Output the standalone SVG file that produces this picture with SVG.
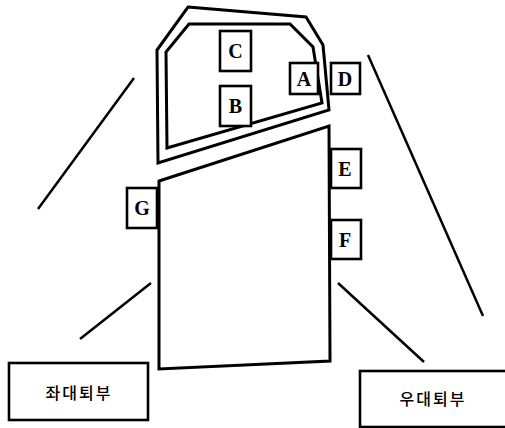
<svg xmlns="http://www.w3.org/2000/svg" width="505" height="428" viewBox="0 0 505 428">
<style>
.s{fill:none;stroke:#000;stroke-width:3;stroke-linejoin:miter}
.b{fill:#fff;stroke:#000;stroke-width:2.6}
.l{fill:none;stroke:#000;stroke-width:2.5}
.t{font-family:"Liberation Serif",serif;font-weight:bold;font-size:20px;text-anchor:middle}
.k{font-family:"Noto Sans CJK KR","Noto Sans",sans-serif;font-size:16px;font-weight:500;letter-spacing:2px;text-anchor:middle}
</style>
<rect width="505" height="428" fill="#fff"/>
<g id="outline">
<polygon class="s" points="188,7 306,17 323,45 329,110 158,163 157,50"/>
<polygon class="s" points="189,24 290,24 313,47 322,103 167,148 166,52"/>
<polygon class="s" points="159,181 329,126 330,361 159,369"/>
</g>
<g id="connectors">
<line class="l" x1="134" y1="78" x2="38" y2="209"/>
<line class="l" x1="151" y1="283" x2="80" y2="339"/>
<line class="l" x1="338" y1="283" x2="424" y2="362"/>
<line class="l" x1="368" y1="55" x2="483" y2="316"/>
</g>
<g id="C"><rect class="b" x="220" y="31" width="31" height="40"/><text class="t" x="235.5" y="58">C</text></g>
<g id="B"><rect class="b" x="220" y="86" width="31" height="40"/><text class="t" x="235.5" y="113">B</text></g>
<g id="A"><rect class="b" x="290" y="63" width="28" height="31"/><text class="t" x="304" y="86">A</text></g>
<g id="D"><rect class="b" x="331" y="63" width="29" height="31"/><text class="t" x="345" y="86">D</text></g>
<g id="E"><rect class="b" x="331" y="149" width="30" height="39"/><text class="t" x="345" y="176">E</text></g>
<g id="F"><rect class="b" x="331" y="220" width="30" height="39"/><text class="t" x="345" y="247">F</text></g>
<g id="G"><rect class="b" x="127" y="188" width="30" height="40"/><text class="t" x="142" y="215">G</text></g>
<g id="left"><rect class="b" x="9" y="363" width="139" height="57"/><text class="k" x="79" y="399">좌대퇴부</text></g>
<g id="right"><rect class="b" x="360" y="371" width="150" height="56"/><text class="k" x="433" y="405">우대퇴부</text></g>
</svg>
